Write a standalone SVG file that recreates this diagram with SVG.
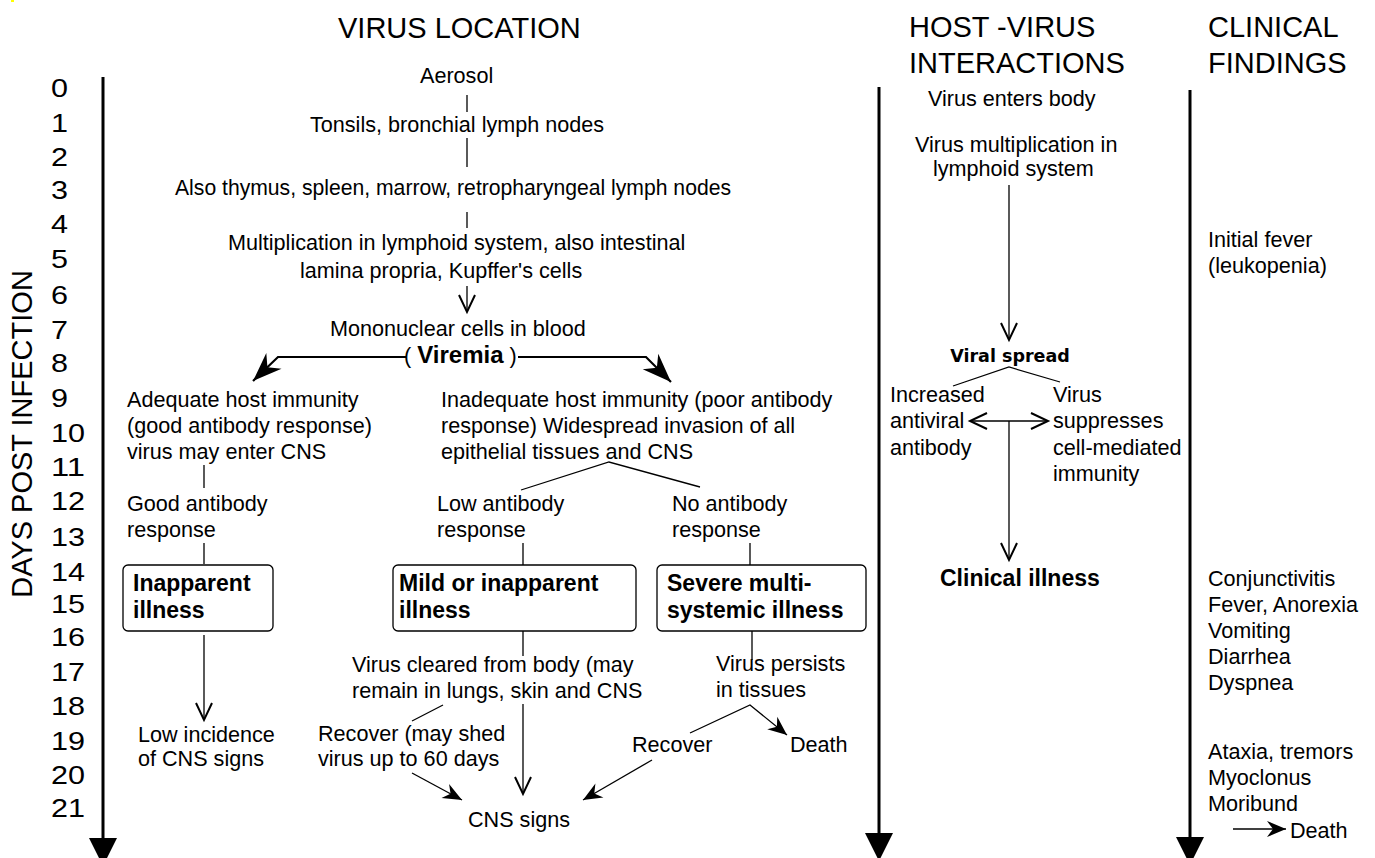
<svg xmlns="http://www.w3.org/2000/svg" width="1375" height="858" viewBox="0 0 1375 858">
<style>
text{font-family:"Liberation Sans",Arial,sans-serif;fill:#000}
.t{font-size:21.6px}
.b{font-size:23px;font-weight:bold}
.h{font-size:29px}
.d{font-size:25px}
.ln{stroke:#000;stroke-width:1.3;fill:none}
.vl{stroke:#000;stroke-width:2.2;fill:none}
.ax{stroke:#000;stroke-width:3;fill:none}
.box{fill:#fff;stroke:#000;stroke-width:1.3}
</style>
<defs>
<marker id="openV" viewBox="-20 -11 24 22" refX="0" refY="0" markerWidth="24" markerHeight="22" markerUnits="userSpaceOnUse" orient="auto-start-reverse"><path d="M-17,-8 L0,0 L-17,8" fill="none" stroke="#000" stroke-width="2"/></marker>
<marker id="barb" viewBox="-22 -11 24 22" refX="0" refY="0" markerWidth="24" markerHeight="22" markerUnits="userSpaceOnUse" orient="auto"><path d="M0,0 L-19,-8 L-13,0 L-19,8 Z" fill="#000"/></marker>
<marker id="bigbarb" viewBox="-32 -14 34 28" refX="0" refY="0" markerWidth="34" markerHeight="28" markerUnits="userSpaceOnUse" orient="auto"><path d="M0,0 L-29,-11 L-20,0 L-29,11 Z" fill="#000"/></marker>
</defs>
<rect x="11" y="0" width="3" height="2" fill="#ffff00"/>

<g id="titles">
<text class="h" x="338" y="38">VIRUS LOCATION</text>
<text class="h" x="909" y="37">HOST -VIRUS</text>
<text class="h" x="909" y="73">INTERACTIONS</text>
<text class="h" x="1208" y="37">CLINICAL</text>
<text class="h" x="1208" y="73">FINDINGS</text>
<text class="h" transform="translate(32,434) rotate(-90)" text-anchor="middle">DAYS POST INFECTION</text>
</g>

<g id="days" class="d">
<text x="51" y="97" textLength="17" lengthAdjust="spacingAndGlyphs">0</text>
<text x="51" y="132" textLength="17" lengthAdjust="spacingAndGlyphs">1</text>
<text x="51" y="166" textLength="17" lengthAdjust="spacingAndGlyphs">2</text>
<text x="51" y="199" textLength="17" lengthAdjust="spacingAndGlyphs">3</text>
<text x="51" y="233" textLength="17" lengthAdjust="spacingAndGlyphs">4</text>
<text x="51" y="268" textLength="17" lengthAdjust="spacingAndGlyphs">5</text>
<text x="51" y="304" textLength="17" lengthAdjust="spacingAndGlyphs">6</text>
<text x="51" y="339" textLength="17" lengthAdjust="spacingAndGlyphs">7</text>
<text x="51" y="372" textLength="17" lengthAdjust="spacingAndGlyphs">8</text>
<text x="51" y="407" textLength="17" lengthAdjust="spacingAndGlyphs">9</text>
<text x="51" y="442" textLength="34" lengthAdjust="spacingAndGlyphs">10</text>
<text x="51" y="476" textLength="34" lengthAdjust="spacingAndGlyphs">11</text>
<text x="51" y="510" textLength="34" lengthAdjust="spacingAndGlyphs">12</text>
<text x="51" y="546" textLength="34" lengthAdjust="spacingAndGlyphs">13</text>
<text x="51" y="581" textLength="34" lengthAdjust="spacingAndGlyphs">14</text>
<text x="51" y="613" textLength="34" lengthAdjust="spacingAndGlyphs">15</text>
<text x="51" y="646" textLength="34" lengthAdjust="spacingAndGlyphs">16</text>
<text x="51" y="681" textLength="34" lengthAdjust="spacingAndGlyphs">17</text>
<text x="51" y="715" textLength="34" lengthAdjust="spacingAndGlyphs">18</text>
<text x="51" y="750" textLength="34" lengthAdjust="spacingAndGlyphs">19</text>
<text x="51" y="784" textLength="34" lengthAdjust="spacingAndGlyphs">20</text>
<text x="51" y="817" textLength="34" lengthAdjust="spacingAndGlyphs">21</text>
</g>

<g id="connectors">
<line class="ax" x1="103" y1="77" x2="103" y2="842"/>
<polygon points="89,838 117,838 103,866" fill="#000"/>
<line class="ax" x1="879" y1="87" x2="879" y2="836"/>
<polygon points="865,833 893,833 879,861" fill="#000"/>
<line class="ax" x1="1190" y1="90" x2="1190" y2="840"/>
<polygon points="1176,837 1204,837 1190,865" fill="#000"/>

<line class="ln" x1="467" y1="95" x2="467" y2="112"/>
<line class="ln" x1="467" y1="138" x2="467" y2="167"/>
<line class="ln" x1="467" y1="212" x2="467" y2="228"/>
<line class="ln" x1="467" y1="286" x2="467" y2="312" marker-end="url(#openV)"/>
<polyline class="vl" points="406,357 278,357 253,381" marker-end="url(#bigbarb)"/>
<polyline class="vl" points="518,357 646,357 671,382" marker-end="url(#bigbarb)"/>
<line class="ln" x1="204" y1="465" x2="204" y2="488"/>
<line class="ln" x1="204" y1="543" x2="204" y2="564"/>
<polyline class="ln" points="521,490 609,462 700,487"/>
<line class="ln" x1="523" y1="543" x2="523" y2="565"/>
<line class="ln" x1="750" y1="543" x2="750" y2="565"/>
<line class="ln" x1="204" y1="635" x2="204" y2="720" marker-end="url(#openV)"/>
<line class="ln" x1="523" y1="631" x2="523" y2="656"/>
<line class="ln" x1="752" y1="631" x2="752" y2="660"/>
<line class="ln" x1="412" y1="721" x2="443" y2="705"/>
<line class="ln" x1="523" y1="704" x2="523" y2="794" marker-end="url(#openV)"/>
<line class="ln" x1="412" y1="773" x2="462" y2="800" marker-end="url(#barb)"/>
<line class="ln" x1="652" y1="760" x2="583" y2="800" marker-end="url(#barb)"/>
<polyline class="ln" points="690,733 750,705 787,735" marker-end="url(#barb)"/>

<line class="ln" x1="1009" y1="185" x2="1009" y2="340" marker-end="url(#openV)"/>
<polyline class="ln" points="953,386 1009,367 1060,382"/>
<line class="ln" x1="970" y1="421" x2="1048" y2="421" marker-start="url(#openV)" marker-end="url(#openV)"/>
<line class="ln" x1="1009" y1="421" x2="1009" y2="560" marker-end="url(#openV)"/>
<line class="ln" x1="1233" y1="829" x2="1286" y2="829" marker-end="url(#barb)"/>
</g>

<g id="virus-location" class="t">
<text x="420" y="83">Aerosol</text>
<text x="310" y="132">Tonsils, bronchial lymph nodes</text>
<text x="175" y="195" textLength="556" lengthAdjust="spacingAndGlyphs">Also thymus, spleen, marrow, retropharyngeal lymph nodes</text>
<text x="228" y="250">Multiplication in lymphoid system, also intestinal</text>
<text x="300" y="278">lamina propria, Kupffer's cells</text>
<text x="330" y="336">Mononuclear cells in blood</text>
</g>
<g id="viremia"><text class="t" x="404" y="363">( <tspan style="font-weight:bold;font-size:24px">Viremia</tspan> )</text></g>

<g id="adequate" class="t">
<text x="127" y="407">Adequate host immunity</text>
<text x="127" y="433">(good antibody response)</text>
<text x="127" y="459">virus may enter CNS</text>
</g>
<g id="inadequate" class="t">
<text x="441" y="407">Inadequate host immunity (poor antibody</text>
<text x="441" y="433">response) Widespread invasion of all</text>
<text x="441" y="459">epithelial tissues and CNS</text>
</g>
<g id="good-antibody" class="t">
<text x="127" y="511">Good antibody</text>
<text x="127" y="537">response</text>
</g>
<g id="low-antibody" class="t">
<text x="437" y="511">Low antibody</text>
<text x="437" y="537">response</text>
</g>
<g id="no-antibody" class="t">
<text x="672" y="511">No antibody</text>
<text x="672" y="537">response</text>
</g>

<g id="inapparent-box">
<rect class="box" x="123" y="565" width="150" height="66" rx="5"/>
<text class="b" x="133" y="591">Inapparent</text>
<text class="b" x="133" y="618">illness</text>
</g>
<g id="mild-box">
<rect class="box" x="393" y="565" width="243" height="66" rx="5"/>
<text class="b" x="399" y="591">Mild or inapparent</text>
<text class="b" x="399" y="618">illness</text>
</g>
<g id="severe-box">
<rect class="box" x="657" y="565" width="209" height="66" rx="5"/>
<text class="b" x="667" y="591">Severe multi-</text>
<text class="b" x="667" y="618">systemic illness</text>
</g>

<g id="low-incidence" class="t">
<text x="138" y="742">Low incidence</text>
<text x="138" y="766">of CNS signs</text>
</g>
<g id="virus-cleared" class="t">
<text x="352" y="672">Virus cleared from body (may</text>
<text x="352" y="698">remain in lungs, skin and CNS</text>
</g>
<g id="recover-shed" class="t">
<text x="318" y="741">Recover (may shed</text>
<text x="318" y="766">virus up to 60 days</text>
</g>
<g id="virus-persists" class="t">
<text x="716" y="671">Virus persists</text>
<text x="716" y="697">in tissues</text>
</g>
<g id="recover" class="t"><text x="632" y="752">Recover</text></g>
<g id="death" class="t"><text x="790" y="752">Death</text></g>
<g id="cns-signs" class="t"><text x="468" y="827">CNS signs</text></g>

<g id="host-virus" class="t">
<text x="928" y="106">Virus enters body</text>
<text x="915" y="152">Virus multiplication in</text>
<text x="933" y="176">lymphoid system</text>
</g>
<g id="viral-spread"><text x="1010" y="362" text-anchor="middle" style="font-family:'DejaVu Sans',Verdana,sans-serif;font-weight:bold;font-size:17.5px">Viral spread</text></g>
<g id="increased" class="t">
<text x="890" y="402">Increased</text>
<text x="890" y="428">antiviral</text>
<text x="890" y="455">antibody</text>
</g>
<g id="suppresses" class="t">
<text x="1053" y="402">Virus</text>
<text x="1053" y="428">suppresses</text>
<text x="1053" y="455">cell-mediated</text>
<text x="1053" y="481">immunity</text>
</g>
<g id="clinical-illness"><text class="b" x="940" y="586">Clinical illness</text></g>

<g id="clinical-findings" class="t">
<text x="1208" y="247">Initial fever</text>
<text x="1208" y="273">(leukopenia)</text>
<text x="1208" y="586">Conjunctivitis</text>
<text x="1208" y="612">Fever, Anorexia</text>
<text x="1208" y="638">Vomiting</text>
<text x="1208" y="664">Diarrhea</text>
<text x="1208" y="690">Dyspnea</text>
<text x="1208" y="759">Ataxia, tremors</text>
<text x="1208" y="785">Myoclonus</text>
<text x="1208" y="811">Moribund</text>
<text x="1290" y="838">Death</text>
</g>
</svg>
